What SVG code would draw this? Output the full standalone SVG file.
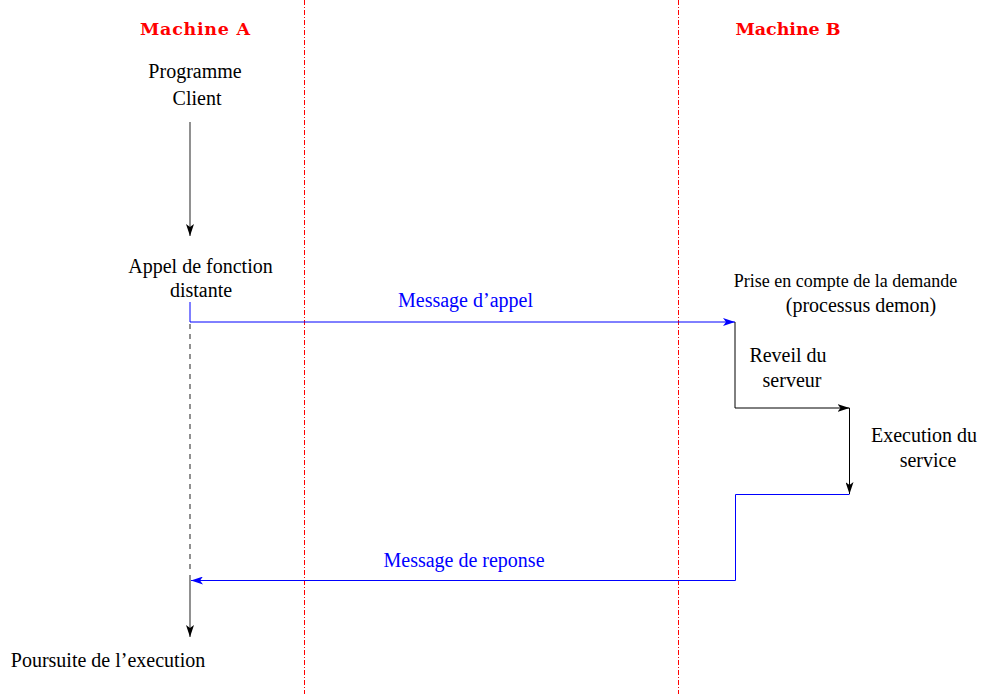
<svg xmlns="http://www.w3.org/2000/svg" width="987" height="694" viewBox="0 0 987 694">
<style>
.t{font-family:"Liberation Serif","Times New Roman",serif;font-size:20px;fill:#000;text-anchor:middle}
.b{fill:#0000ff}
.h{font-family:"DejaVu Serif",serif;font-weight:bold;font-size:17.5px;fill:#ff0000;text-anchor:middle}
.sep{stroke:#ff0000;stroke-width:1;stroke-dasharray:5 2 1 2;fill:none}
.gr{stroke:#555;stroke-width:1.3;fill:none}
.bk{stroke:#000;stroke-width:1;fill:none}
.bl{stroke:#0000ff;stroke-width:1;fill:none}
</style>
<defs>
<marker id="ak" viewBox="0 0 12 8" refX="12" refY="4" markerWidth="12" markerHeight="8" markerUnits="userSpaceOnUse" orient="auto">
<path d="M0,0 L12,4 L0,8 L3,4 Z" fill="#000"/>
</marker>
<marker id="ab" viewBox="0 0 12 8" refX="12" refY="4" markerWidth="12" markerHeight="8" markerUnits="userSpaceOnUse" orient="auto">
<path d="M0,0 L12,4 L0,8 L3,4 Z" fill="#0000ff"/>
</marker>
</defs>
<rect width="987" height="694" fill="#fff"/>
<g id="separators">
<line class="sep" x1="304.5" y1="0" x2="304.5" y2="694"/>
<line class="sep" x1="678.5" y1="0" x2="678.5" y2="694"/>
</g>
<g id="connectors">
<line class="gr" x1="190" y1="122" x2="190" y2="236" marker-end="url(#ak)"/>
<line class="gr" x1="190" y1="324" x2="190" y2="570" stroke-dasharray="5 5"/>
<line class="gr" x1="190" y1="575" x2="190" y2="637" marker-end="url(#ak)"/>
<polyline class="bl" points="190,302 190,322 735,322" marker-end="url(#ab)"/>
<polyline class="bk" points="735,322 735,408 849.5,408" marker-end="url(#ak)"/>
<line class="bk" x1="849.5" y1="408" x2="849.5" y2="494" marker-end="url(#ak)"/>
<polyline class="bl" points="849.5,494.5 735.5,494.5 735.5,580.5 191,580.5" marker-end="url(#ab)"/>
</g>
<g id="machineA"><text class="h" x="195" y="35" textLength="110">Machine A</text></g>
<g id="machineB"><text class="h" x="788" y="35" textLength="105">Machine B</text></g>
<g id="programme"><text class="t" x="195" y="78">Programme</text><text class="t" x="197" y="105">Client</text></g>
<g id="appel"><text class="t" x="200.5" y="273">Appel de fonction</text><text class="t" x="201" y="297">distante</text></g>
<g id="msgAppel"><text class="t b" x="465.5" y="307">Message d’appel</text></g>
<g id="prise"><text class="t" x="845.5" y="287" style="font-size:18px">Prise en compte de la demande</text><text class="t" x="861" y="312">(processus demon)</text></g>
<g id="reveil"><text class="t" x="788" y="362">Reveil du</text><text class="t" x="792" y="387">serveur</text></g>
<g id="execution"><text class="t" x="924" y="442">Execution du</text><text class="t" x="928" y="467">service</text></g>
<g id="msgReponse"><text class="t b" x="464" y="567">Message de reponse</text></g>
<g id="poursuite"><text class="t" x="108" y="667">Poursuite de l’execution</text></g>
</svg>
